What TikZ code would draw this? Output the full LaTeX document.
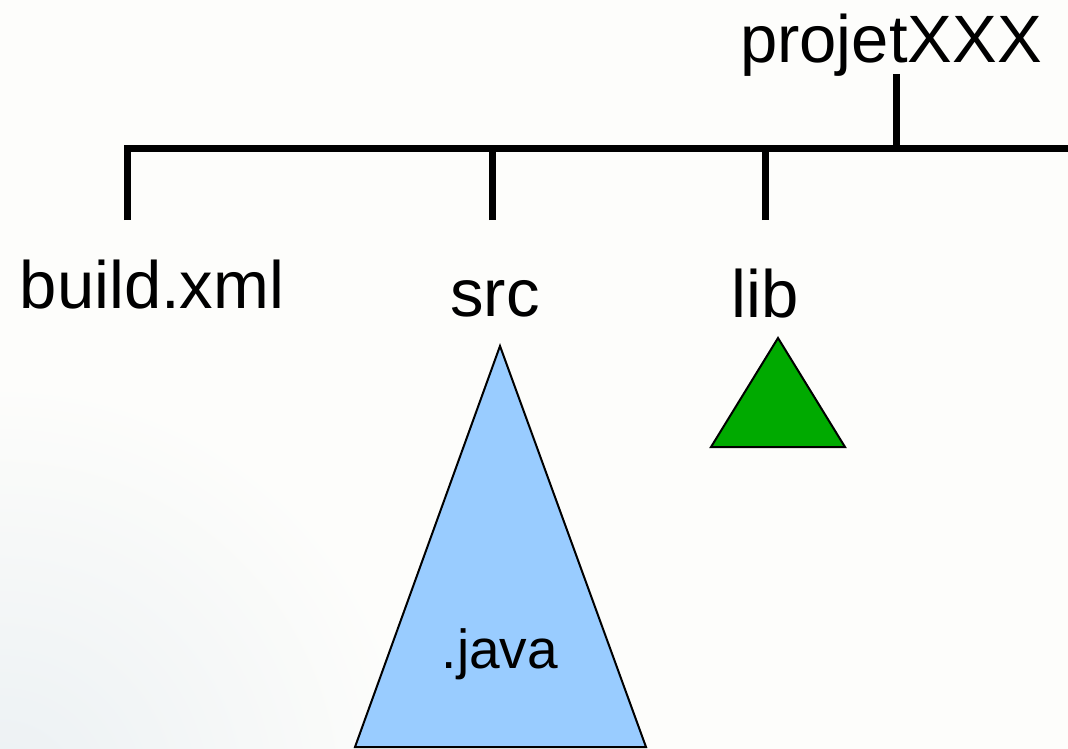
\documentclass[tikz,border=0pt]{standalone}
\usepackage{fontspec}
\setmainfont{Liberation Sans}
\definecolor{paper}{HTML}{FDFDFB}
\definecolor{haze}{HTML}{EBF0F3}
\definecolor{srcblue}{HTML}{99CCFF}
\definecolor{libgreen}{HTML}{00AA00}
\tikzset{
  dirlabel/.style={inner sep=0pt, anchor=base, font=\fontsize{67}{80}\selectfont},
  treeline/.style={line width=7pt, black, line join=miter},
  folder/.style={draw=black, line width=2pt, line join=miter},
}
\begin{document}
\begin{tikzpicture}[x=1pt,y=-1pt]
  % page and soft shadow in the lower left corner
  \useasboundingbox (0,0) rectangle (1068,749);
  \fill[paper] (0,0) rectangle (1068,749);
  \begin{scope}
    \clip (0,0) rectangle (1068,749);
    \shade[inner color=haze, outer color=paper] (0,800) circle (420);
  \end{scope}

  % root directory and its stem
  \node[dirlabel] (root) at (891,63) {projetXXX};
  \coordinate (stemtop) at (896,74);
  \coordinate (bus) at (896,149);
  \coordinate (busend) at (1068,149);

  % children
  \node[dirlabel] (build) at (152,308) {build.xml};
  \node[dirlabel] (src) at (495,316) {src};
  \node[dirlabel] (lib) at (765,317) {lib};
  \coordinate (dropbuild) at (127,220);
  \coordinate (dropsrc) at (492,220);
  \coordinate (droplib) at (765,220);

  % tree lines
  \draw[treeline] (stemtop) -- (bus);
  \draw[treeline] (dropbuild) -- (dropbuild |- bus) -- (busend);
  \draw[treeline] (dropsrc) -- (dropsrc |- bus);
  \draw[treeline] (droplib) -- (droplib |- bus);

  % contents of src
  \coordinate (srctop) at (500,346);
  \coordinate (srcleft) at (355,747);
  \coordinate (srcright) at (646,747);
  \filldraw[folder, fill=srcblue] (srctop) -- (srcleft) -- (srcright) -- cycle;
  \node[inner sep=0pt, anchor=base, font=\fontsize{55}{66}\selectfont] (java) at (500,668) {.java};

  % contents of lib
  \coordinate (libtop) at (778,338);
  \coordinate (libleft) at (711,447);
  \coordinate (libright) at (845,447);
  \filldraw[folder, fill=libgreen] (libtop) -- (libleft) -- (libright) -- cycle;
\end{tikzpicture}
\end{document}
